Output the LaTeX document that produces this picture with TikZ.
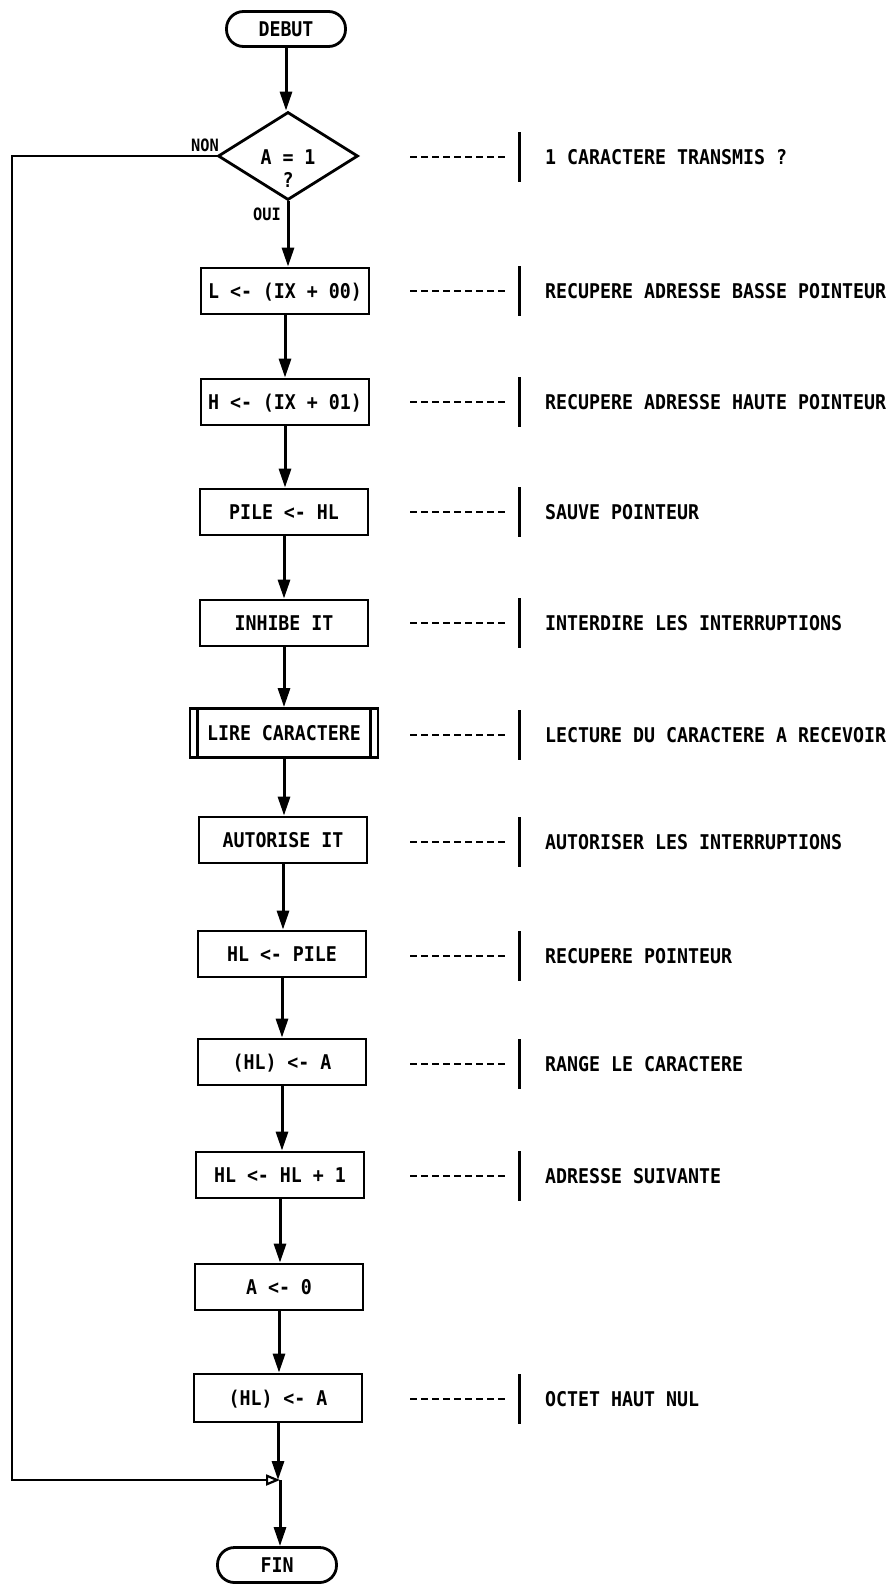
\documentclass[tikz,border=0pt]{standalone}
\usepackage{fontspec}
\newfontfamily\dm{DejaVu Sans Mono}[FakeStretch=0.9]
\usetikzlibrary{shapes.geometric,arrows.meta}
\begin{document}
\begin{tikzpicture}[x=1pt,y=-1pt,
  txt/.style={font=\dm\bfseries\fontsize{20.3}{22}\selectfont, text=black, text height=15pt, text depth=0pt},
  lbl/.style={font=\dm\bfseries\fontsize{17}{19}\selectfont, text=black, inner sep=0pt},
  proc/.style={draw, line width=2.8pt, minimum width=168pt, minimum height=46pt, inner sep=0pt, txt},
  term/.style={draw, line width=2.8pt, rounded corners=17pt, minimum width=119pt, minimum height=35pt, inner sep=0pt, txt},
  dec/.style={draw, diamond, line width=2.8pt, minimum width=140pt, minimum height=88pt, inner sep=0pt},
  flow/.style={line width=3pt, -{Triangle[length=19pt,width=12pt]}},
  loopline/.style={line width=2.8pt, -{Triangle[open,length=14pt,width=11pt,line width=2.2pt]}},
  cmt/.style={anchor=west, inner sep=0pt, txt},
  dashline/.style={line width=2.5pt, dash pattern=on 7pt off 4pt},
  barline/.style={line width=3pt},
]
\fill[white] (0,0) rectangle (895,1585);
\useasboundingbox (0,0) rectangle (895,1585);

% main column
\node[term] (debut) at (286,29) {DEBUT};
\node[dec] (dec) at (288,156) {};
\node[txt, inner sep=0pt] (dq1) at (288,157) {A = 1};
\node[txt, inner sep=0pt] (dq2) at (288,180) {?};
\node[proc] (b1) at (285,291) {L <- (IX + 00)};
\node[proc] (b2) at (285,402) {H <- (IX + 01)};
\node[proc] (b3) at (284,512) {PILE <- HL};
\node[proc] (b4) at (284,623) {INHIBE IT};
\node[proc, minimum width=188pt, minimum height=49pt] (b5) at (284,733) {LIRE CARACTERE};
\draw[line width=2.8pt] ([xshift=9pt]b5.north west) -- ([xshift=9pt]b5.south west);
\draw[line width=2.8pt] ([xshift=-9pt]b5.north east) -- ([xshift=-9pt]b5.south east);
\node[proc] (b6) at (283,840) {AUTORISE IT};
\node[proc] (b7) at (282,954) {HL <- PILE};
\node[proc] (b8) at (282,1062) {(HL) <- A};
\node[proc] (b9) at (280,1175) {HL <- HL + 1};
\node[proc] (b10) at (279,1287) {A <- 0};
\node[proc, minimum height=48pt] (b11) at (278,1398) {(HL) <- A};
\coordinate (m) at (280,1480);
\node[term] (fin) at (277,1565) {FIN};

% labels
\node[lbl, anchor=south east] (non) at (219,152) {NON};
\node[lbl, anchor=east] (oui) at (281,214) {OUI};

% connectors (kept vertical)
\draw[flow] (debut.south) -- (debut.south |- dec.north);
\draw[flow] (dec.south) -- (dec.south |- b1.north);
\foreach \a/\b in {b1/b2,b2/b3,b3/b4,b4/b5,b5/b6,b6/b7,b7/b8,b8/b9,b9/b10,b10/b11}{
  \draw[flow] (\a.south) -- (\a.south |- \b.north);
}
\draw[flow] (b11.south) -- (b11.south |- m);
\draw[flow] (m) -- (m |- fin.north);
\coordinate (nl) at (12,156);
\coordinate (nb) at (12,1480);
\draw[loopline] (dec.west) -- (nl) -- (nb) -- (m);

% comments
\foreach \y/\t/\n in {157/{1 CARACTERE TRANSMIS ?}/0,
                      291/{RECUPERE ADRESSE BASSE POINTEUR}/1,
                      402/{RECUPERE ADRESSE HAUTE POINTEUR}/2,
                      512/{SAUVE POINTEUR}/3,
                      623/{INTERDIRE LES INTERRUPTIONS}/4,
                      735/{LECTURE DU CARACTERE A RECEVOIR}/5,
                      842/{AUTORISER LES INTERRUPTIONS}/6,
                      956/{RECUPERE POINTEUR}/7,
                      1064/{RANGE LE CARACTERE}/8,
                      1176/{ADRESSE SUIVANTE}/9,
                      1399/{OCTET HAUT NUL}/11}{
  \node[cmt] (c\n) at (545,\y) {\t};
  \coordinate (ds\n) at (410,\y);
  \coordinate (de\n) at (507,\y);
  \draw[dashline] (ds\n) -- (de\n);
  \coordinate (bt\n) at (519,\y-25);
  \coordinate (bb\n) at (519,\y+25);
  \draw[barline] (bt\n) -- (bb\n);
}
\end{tikzpicture}
\end{document}
